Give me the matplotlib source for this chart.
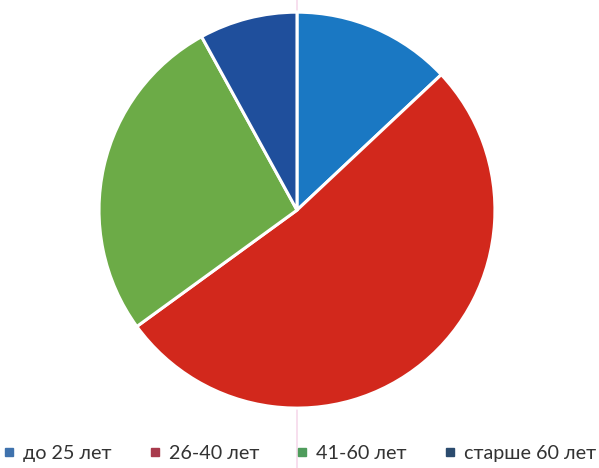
import matplotlib
matplotlib.use("Agg")
import matplotlib.pyplot as plt
from matplotlib.lines import Line2D

categories = ["до 25 лет", "26-40 лет", "41-60 лет", "старше 60 лет"]
values = [13, 52, 27, 8]
slice_colors = ["#1a78c3", "#d2281c", "#6cab47", "#1f4f9c"]
legend_colors = ["#3f72ad", "#a83a4c", "#4f9c5c", "#2b4b6e"]

plt.rcParams['font.family'] = ['Lato', 'DejaVu Sans']

fig = plt.figure(figsize=(5.99, 4.68), dpi=100)
ax = fig.add_axes([0.1653, 0.128, 0.661, 0.846])
ax.pie(values, colors=slice_colors, startangle=90, counterclock=False,
       radius=1, wedgeprops=dict(edgecolor="white", linewidth=2.2))
ax.set_xlim(-1, 1)
ax.set_ylim(-1, 1)
ax.set_aspect("equal")
ax.axis("off")

# faint vertical scan line
fig.add_artist(Line2D([0.496, 0.496], [0.0, 1.0], color="#f3cfe6", lw=1.2, alpha=0.8, zorder=0))

handles = [Line2D([0], [0], marker="s", color="w", markerfacecolor=c, markeredgecolor=c,
                  markersize=6, linestyle="None") for c in legend_colors]
fig.legend(handles, categories, loc="center", bbox_to_anchor=(0.5, 0.032), ncol=4,
           frameon=False, fontsize=14.2, handlelength=0.6, handletextpad=0.4,
           columnspacing=1.9, labelcolor="#333333")

fig.savefig("out.png", dpi=100)
